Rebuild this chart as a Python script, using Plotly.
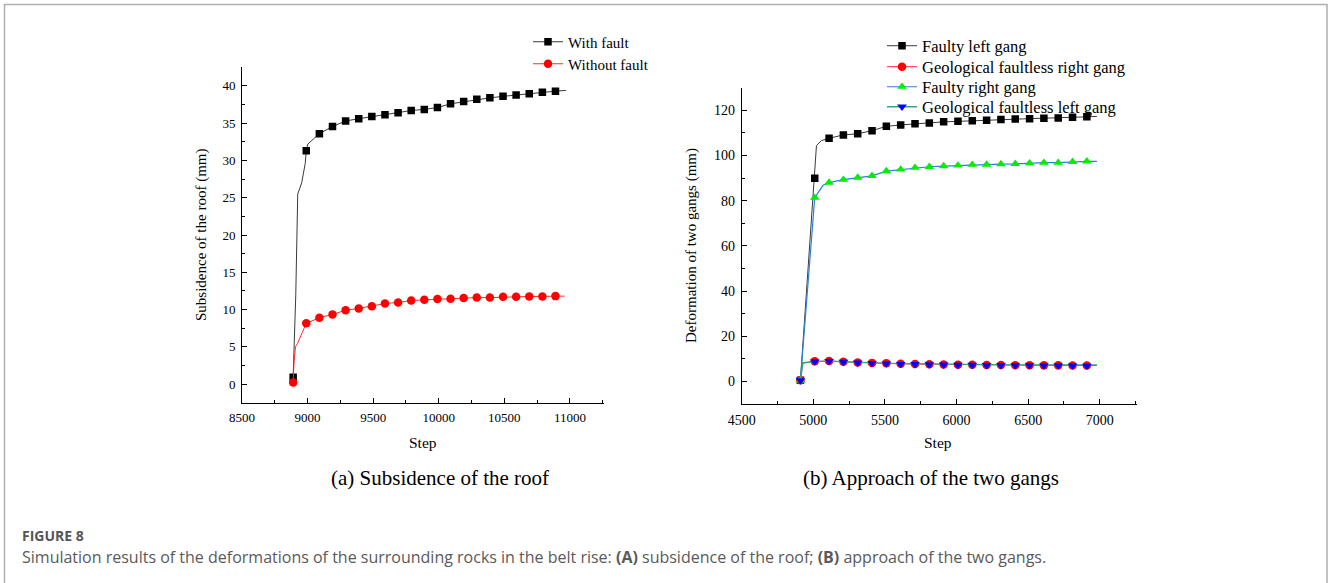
import plotly.graph_objects as go

W, H = 1328, 583


def px(x):
    return x / W


def py(y):
    return 1 - y / H


# ---------------- (a) Subsidence of the roof ----------------
roof_marker_steps = [8890, 8990, 9090, 9190, 9290, 9390, 9490, 9590, 9690, 9790, 9890,
                     9990, 10090, 10190, 10290, 10390, 10490, 10590, 10690, 10790, 10890]
with_fault = [0.9, 31.3, 33.6, 34.55, 35.3, 35.6, 35.9, 36.15, 36.4, 36.7, 36.85,
              37.1, 37.6, 37.9, 38.2, 38.4, 38.6, 38.8, 38.95, 39.15, 39.3]
without_fault = [0.2, 8.15, 8.9, 9.35, 9.9, 10.15, 10.45, 10.8, 10.95, 11.2, 11.3,
                 11.4, 11.45, 11.55, 11.6, 11.6, 11.7, 11.7, 11.75, 11.75, 11.8]

with_fault_line_x = [8890, 8910, 8925, 8940, 8955, 8982, 8990, 9002, 9033, 9090, 9190, 9290,
                     9390, 9490, 9590, 9690, 9790, 9890, 9990, 10090, 10190, 10290, 10390,
                     10490, 10590, 10690, 10790, 10890, 10970]
with_fault_line_y = [0.9, 12.0, 25.5, 26.3, 27.0, 29.6, 31.3, 32.2, 32.7, 33.6, 34.55, 35.3,
                     35.6, 35.9, 36.15, 36.4, 36.7, 36.85, 37.1, 37.6, 37.9, 38.2, 38.4,
                     38.6, 38.8, 38.95, 39.15, 39.3, 39.4]
without_fault_line_x = [8890, 8897, 8908, 8923, 8990, 9090, 9190, 9290, 9390, 9490, 9590,
                        9690, 9790, 9890, 9990, 10090, 10190, 10290, 10390, 10490, 10590,
                        10690, 10790, 10890, 10960]
without_fault_line_y = [0.2, 3.0, 5.0, 5.45, 8.15, 8.9, 9.35, 9.9, 10.15, 10.45, 10.8,
                        10.95, 11.2, 11.3, 11.4, 11.45, 11.55, 11.6, 11.6, 11.7, 11.7,
                        11.75, 11.75, 11.8, 11.8]

# ---------------- (b) Approach of the two gangs ----------------
gang_marker_steps = [4910, 5010, 5110, 5210, 5310, 5410, 5510, 5610, 5710, 5810, 5910,
                     6010, 6110, 6210, 6310, 6410, 6510, 6610, 6710, 6810, 6910]
faulty_left = [0.5, 89.9, 107.6, 109.1, 109.6, 111.0, 112.9, 113.5, 114.0, 114.4, 114.9,
               115.1, 115.4, 115.6, 115.9, 116.2, 116.3, 116.5, 116.6, 116.9, 117.1]
faultless_right = [0.5, 8.9, 9.0, 8.7, 8.4, 8.2, 8.0, 7.8, 7.7, 7.6, 7.5,
                   7.4, 7.35, 7.3, 7.25, 7.2, 7.15, 7.1, 7.1, 7.05, 7.0]
faulty_right = [0.5, 81.3, 88.0, 89.3, 90.2, 91.0, 93.1, 93.8, 94.6, 95.0, 95.3,
                95.6, 95.9, 96.0, 96.2, 96.3, 96.6, 96.8, 96.8, 97.2, 97.4]
faultless_left = [0.4, 8.8, 9.0, 8.6, 8.3, 8.1, 7.9, 7.7, 7.6, 7.5, 7.4,
                  7.3, 7.3, 7.2, 7.2, 7.1, 7.1, 7.0, 7.0, 7.0, 6.9]

faulty_left_line_x = [4910, 5010, 5022, 5057, 5110, 5210, 5310, 5410, 5510, 5610, 5710,
                      5810, 5910, 6010, 6110, 6210, 6310, 6410, 6510, 6610, 6710, 6810,
                      6910, 6980]
faulty_left_line_y = [0.5, 89.9, 104.4, 106.6, 107.6, 109.1, 109.6, 111.0, 112.9, 113.5,
                      114.0, 114.4, 114.9, 115.1, 115.4, 115.6, 115.9, 116.2, 116.3, 116.5,
                      116.6, 116.9, 117.1, 117.3]
faulty_right_line_x = [4910, 5010, 5068, 5110, 5210, 5310, 5410, 5510, 5610, 5710, 5810,
                       5910, 6010, 6110, 6210, 6310, 6410, 6510, 6610, 6710, 6810, 6910,
                       6980]
faulty_right_line_y = [0.5, 81.3, 86.8, 88.0, 89.3, 90.2, 91.0, 93.1, 93.8, 94.6, 95.0,
                       95.3, 95.6, 95.9, 96.0, 96.2, 96.3, 96.6, 96.8, 96.8, 97.2, 97.4,
                       97.4]
faultless_right_line_x = [4910, 4925, 5010, 5110, 5210, 5310, 5410, 5510, 5610, 5710, 5810,
                          5910, 6010, 6110, 6210, 6310, 6410, 6510, 6610, 6710, 6810, 6910,
                          6980]
faultless_right_line_y = [0.5, 8.3, 8.9, 9.0, 8.7, 8.4, 8.2, 8.0, 7.8, 7.7, 7.6, 7.5,
                          7.4, 7.35, 7.3, 7.25, 7.2, 7.15, 7.1, 7.1, 7.05, 7.0, 7.0]
faultless_left_line_x = [4910, 4928, 5010, 5110, 5210, 5310, 5410, 5510, 5610, 5710, 5810,
                         5910, 6010, 6110, 6210, 6310, 6410, 6510, 6610, 6710, 6810, 6910,
                         6980]
faultless_left_line_y = [0.4, 8.1, 8.8, 9.0, 8.7, 8.4, 8.2, 8.0, 7.9, 7.8, 7.7, 7.6,
                         7.5, 7.45, 7.4, 7.4, 7.35, 7.35, 7.3, 7.3, 7.3, 7.3, 7.3]

SERIF = "Liberation Serif, Times New Roman, serif"

fig = go.Figure()


def add_series(name, lx, ly, mx, my, line_color, line_width, marker_color, symbol, size,
               xa, ya, legend):
    fig.add_trace(go.Scatter(x=lx, y=ly, mode="lines", xaxis=xa, yaxis=ya,
                             line=dict(color=line_color, width=line_width),
                             showlegend=False, hoverinfo="skip"))
    fig.add_trace(go.Scatter(x=mx, y=my, mode="markers", xaxis=xa, yaxis=ya,
                             marker=dict(color=marker_color, symbol=symbol, size=size,
                                         line=dict(width=0)),
                             name=name, showlegend=False))
    fig.add_trace(go.Scatter(x=[None], y=[None], mode="lines+markers", xaxis=xa, yaxis=ya,
                             line=dict(color=line_color, width=line_width),
                             marker=dict(color=marker_color, symbol=symbol, size=size,
                                         line=dict(width=0)),
                             name=name, legend=legend, showlegend=True))


add_series("With fault", with_fault_line_x, with_fault_line_y, roof_marker_steps, with_fault,
           "#3a3a3a", 1, "#000000", "square", 7.5, "x", "y", "legend")
add_series("Without fault", without_fault_line_x, without_fault_line_y, roof_marker_steps,
           without_fault, "#ff2a2a", 1, "#ff0000", "circle", 8.5, "x", "y", "legend2")

add_series("Faulty left gang", faulty_left_line_x, faulty_left_line_y, gang_marker_steps,
           faulty_left, "#3a3a3a", 1, "#000000", "square", 7.5, "x2", "y2", "legend3")
add_series("Geological faultless right gang", faultless_right_line_x, faultless_right_line_y,
           gang_marker_steps, faultless_right, "#ff2a2a", 1, "#ff0000", "circle", 8.5,
           "x2", "y2", "legend4")
add_series("Faulty right gang", faulty_right_line_x, faulty_right_line_y, gang_marker_steps,
           faulty_right, "#2a80e0", 1.2, "#00ee00", "triangle-up", 8.5, "x2", "y2", "legend5")
add_series("Geological faultless left gang", faultless_left_line_x, faultless_left_line_y,
           gang_marker_steps, faultless_left, "#35a878", 1.3, "#0000ff", "triangle-down", 8.5,
           "x2", "y2", "legend6")


def axis(size, **kw):
    d = dict(showline=True, linecolor="black", linewidth=1, ticks="inside", ticklen=5,
             tickwidth=1, tickcolor="black", showgrid=False, zeroline=False,
             automargin=False, tickformat="d", ticklabelstandoff=3,
             tickfont=dict(family=SERIF, size=size, color="black"))
    d.update(kw)
    return d


def legend_at(x, y, size):
    return dict(x=px(x), y=py(y), xanchor="left", yanchor="middle",
                font=dict(family=SERIF, size=size, color="black"),
                bgcolor="rgba(0,0,0,0)", itemwidth=30, tracegroupgap=0)


fig.update_layout(
    width=W, height=H,
    margin=dict(l=0, r=0, t=0, b=0, autoexpand=False),
    paper_bgcolor="white", plot_bgcolor="rgba(0,0,0,0)",
    showlegend=True,
    xaxis=axis(13, domain=[px(242), px(604)], range=[8500, 11260], anchor="y", tick0=8500,
               dtick=500, minor=dict(ticks="inside", ticklen=3, dtick=250, tick0=8500,
                                     tickcolor="black")),
    yaxis=axis(13, domain=[py(402.7), py(67.3)], range=[-2.5, 42.5], anchor="x", tick0=0,
               dtick=5, minor=dict(ticks="inside", ticklen=3, dtick=2.5, tick0=0,
                                   tickcolor="black")),
    xaxis2=axis(14, domain=[px(741.7), px(1136.7)], range=[4500, 7258], anchor="y2",
                tick0=4500, dtick=500, minor=dict(ticks="inside", ticklen=3, dtick=250,
                                                   tick0=4500, tickcolor="black")),
    yaxis2=axis(14, domain=[py(404), py(87.7)], range=[-10, 130], anchor="x2", tick0=0,
                dtick=20, minor=dict(ticks="inside", ticklen=3, dtick=10, tick0=0,
                                     tickcolor="black")),
    legend=legend_at(528, 42, 15),
    legend2=legend_at(528, 64, 15),
    legend3=legend_at(882, 46, 16.5),
    legend4=legend_at(882, 67, 16.5),
    legend5=legend_at(882, 87, 16.5),
    legend6=legend_at(882, 107, 16.5),
)

annotations = [
    dict(text="Subsidence of the roof (mm)", x=px(201), y=py(235), textangle=-90,
         font=dict(family=SERIF, size=15)),
    dict(text="Step", x=px(423), y=py(442), font=dict(family=SERIF, size=15.5)),
    dict(text="Deformation of two gangs (mm)", x=px(691), y=py(246), textangle=-90,
         font=dict(family=SERIF, size=15)),
    dict(text="Step", x=px(938), y=py(442), font=dict(family=SERIF, size=15.5)),
    dict(text="(a) Subsidence of the roof", x=px(440), y=py(478),
         font=dict(family=SERIF, size=21)),
    dict(text="(b) Approach of the two gangs", x=px(931), y=py(478),
         font=dict(family=SERIF, size=21)),
]
for a in annotations:
    a.update(xref="paper", yref="paper", showarrow=False, xanchor="center", yanchor="middle")
    a["font"]["color"] = "black"

annotations.append(dict(text="<b>FIGURE 8</b>", x=px(20), y=py(535), xref="paper",
                        yref="paper", showarrow=False, xanchor="left", yanchor="middle",
                        font=dict(family="Open Sans, sans-serif", size=14, color="#555555")))
annotations.append(dict(
    text="Simulation results of the deformations of the surrounding rocks in the belt rise: "
         "<b>(A)</b> subsidence of the roof; <b>(B)</b> approach of the two gangs.",
    x=px(20), y=py(557), xref="paper", yref="paper", showarrow=False, xanchor="left",
    yanchor="middle", font=dict(family="Open Sans, sans-serif", size=16, color="#5a5a5a")))

fig.update_layout(annotations=annotations)

fig.add_shape(type="rect", xref="paper", yref="paper", x0=px(4.5), x1=px(1327), y0=-0.05,
              y1=py(4.5), line=dict(color="#b0b0b0", width=1.5), fillcolor="rgba(0,0,0,0)",
              layer="below")

fig.write_html("out.html")
